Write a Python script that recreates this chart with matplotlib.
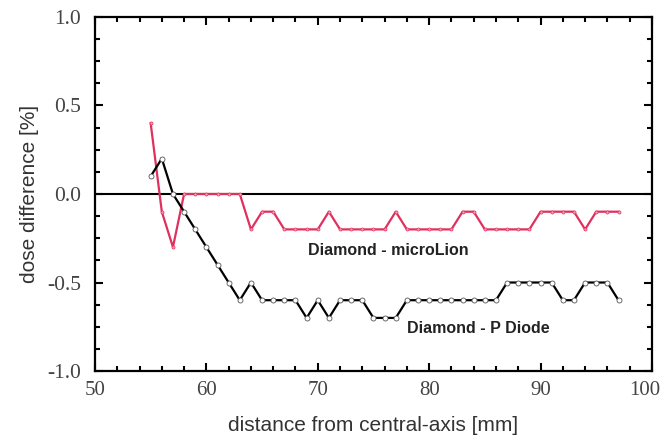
import numpy as np
import matplotlib
matplotlib.use("Agg")
import matplotlib.pyplot as plt
import matplotlib.transforms as mtransforms
from matplotlib.ticker import AutoMinorLocator

# distance from central axis [mm]
dist = list(range(55, 98))

# Diamond - microLion dose difference [%]
micro_lion = [0.4, -0.1, -0.3, 0.0, 0.0, 0.0, 0.0, 0.0, 0.0,
              -0.2, -0.1, -0.1, -0.2, -0.2, -0.2, -0.2, -0.1, -0.2,
              -0.2, -0.2, -0.2, -0.2, -0.1, -0.2, -0.2, -0.2, -0.2,
              -0.2, -0.1, -0.1, -0.2, -0.2, -0.2, -0.2, -0.2, -0.1,
              -0.1, -0.1, -0.1, -0.2, -0.1, -0.1, -0.1]

# Diamond - P Diode dose difference [%]
p_diode = [0.1, 0.2, 0.0, -0.1, -0.2, -0.3, -0.4, -0.5, -0.6,
           -0.5, -0.6, -0.6, -0.6, -0.6, -0.7, -0.6, -0.7, -0.6,
           -0.6, -0.6, -0.7, -0.7, -0.7, -0.6, -0.6, -0.6, -0.6,
           -0.6, -0.6, -0.6, -0.6, -0.6, -0.5, -0.5, -0.5, -0.5,
           -0.5, -0.6, -0.6, -0.5, -0.5, -0.5, -0.6]

xticks = [50, 60, 70, 80, 90, 100]
yticks = [-1.0, -0.5, 0.0, 0.5, 1.0]

fig = plt.figure(figsize=(6.67, 4.42), dpi=100)
ax = fig.add_axes([0.1424, 0.1606, 0.835, 0.801])

ax.axhline(0, color="black", lw=1.5, zorder=1)
ax.plot(dist, micro_lion, color="#e0305e", lw=1.6, marker="o", ms=2.2,
        mfc="#f4a0b4", mec="#e0305e", mew=0.5, zorder=3)
ax.plot(dist, p_diode, color="black", lw=1.6, marker="o", ms=3.6,
        mfc="white", mec="#555555", mew=0.6, zorder=3)

ax.text(76.3, -0.32, "Diamond - microLion", fontsize=11.5, fontweight="bold",
        family="Liberation Sans", color="#222222", ha="center", va="center")
ax.text(84.4, -0.76, "Diamond - P Diode", fontsize=11.5, fontweight="bold",
        family="Liberation Sans", color="#222222", ha="center", va="center")

ax.set_xlim(50, 100)
ax.set_ylim(-1.0, 1.0)
ax.set_xticks(xticks)
ax.set_yticks(yticks)
ax.set_xticklabels([str(v) for v in xticks], family="Liberation Serif",
                   fontsize=15, color="#444444")
ax.set_yticklabels(["%.1f" % v for v in yticks], family="Liberation Serif",
                   fontsize=15.5, color="#444444")
ax.xaxis.set_minor_locator(AutoMinorLocator(5))
ax.yaxis.set_minor_locator(AutoMinorLocator(4))
ax.tick_params(which="both", direction="in", top=True, right=True, width=1.5)
ax.tick_params(which="major", length=6)
ax.tick_params(axis="x", which="major", pad=7)
ax.tick_params(axis="y", which="major", pad=10)
ax.tick_params(which="minor", length=3.5)
for s in ax.spines.values():
    s.set_linewidth(1.6)

# keep the "100" label inside the canvas
last = ax.get_xticklabels()[-1]
last.set_transform(last.get_transform() +
                   mtransforms.ScaledTranslation(-5 / 72, 0, fig.dpi_scale_trans))

ax.set_xlabel("distance from central-axis [mm]", family="Liberation Sans",
              fontsize=15, color="#333333", labelpad=12)
ax.set_ylabel("dose difference [%]", family="Liberation Sans",
              fontsize=15, color="#333333", labelpad=6)

fig.savefig("out.png", dpi=100)
